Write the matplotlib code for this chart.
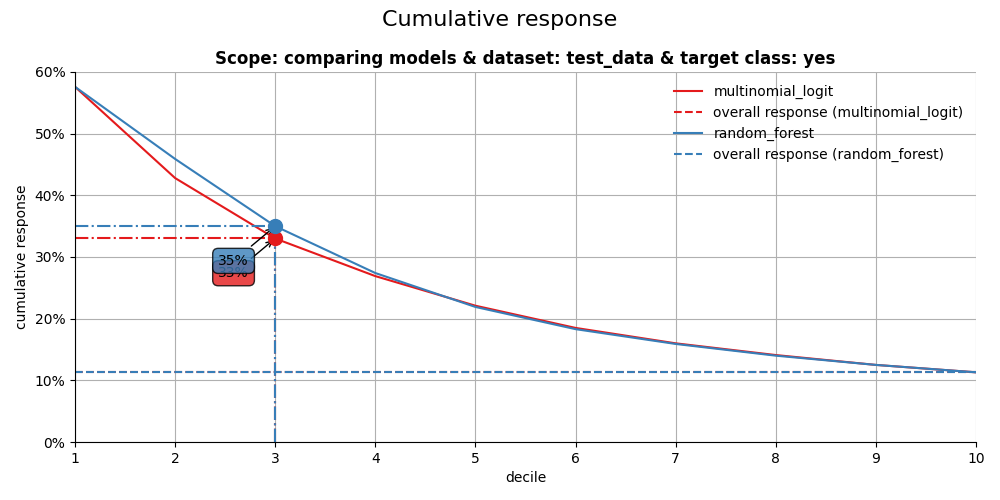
import numpy as np
import matplotlib.pyplot as plt
from matplotlib.ticker import PercentFormatter

# data
deciles = [1, 2, 3, 4, 5, 6, 7, 8, 9, 10]
models = ["multinomial_logit", "random_forest"]
cumresp_logit = [0.576, 0.428, 0.330, 0.269, 0.221, 0.185, 0.160, 0.141, 0.125, 0.113]
cumresp_rf = [0.576, 0.459, 0.350, 0.274, 0.219, 0.183, 0.159, 0.140, 0.125, 0.113]
overall_resp = [0.113, 0.113]
highlight_decile = 3
colors = ["#e41a1c", "#377eb8"]

fig, ax = plt.subplots(figsize=(10, 5), dpi=100)
fig.subplots_adjust(left=0.075, right=0.976, top=0.856, bottom=0.116)

series = [cumresp_logit, cumresp_rf]
for name, vals, ovr, col in zip(models, series, overall_resp, colors):
    ax.plot(deciles, vals, color=col, linewidth=1.5, label=name)
    ax.plot(deciles, [ovr] * len(deciles), color=col, linestyle="--", linewidth=1.5,
            label="overall response (%s)" % name)

# highlight decile 3
for vals, col in zip(series, colors):
    y = vals[highlight_decile - 1]
    ax.plot([1, highlight_decile], [y, y], linestyle="-.", color=col, linewidth=1.5)
    ax.plot([highlight_decile, highlight_decile], [0, y], linestyle="-.", color=col, linewidth=1.5)
    ax.scatter(highlight_decile, y, color=col, s=100, zorder=5)
    ax.annotate("%d%%" % round(y * 100), xy=(highlight_decile, y), xytext=(-30, -25),
                textcoords="offset points", ha="center", va="center",
                bbox=dict(boxstyle="round,pad=0.4", fc=col, alpha=0.8),
                arrowprops=dict(arrowstyle="->", color="black"))

ax.set_xlim(1, 10)
ax.set_ylim(0, 0.6)
ax.set_xticks(deciles)
ax.yaxis.set_major_formatter(PercentFormatter(1.0, decimals=0))
ax.grid(True, color="#b0b0b0")
ax.spines["top"].set_visible(False)
ax.spines["right"].set_visible(False)
ax.set_xlabel("decile")
ax.set_ylabel("cumulative response")
ax.set_title("Scope: comparing models & dataset: test_data & target class: yes",
             fontweight="bold", fontsize=12)
fig.suptitle("Cumulative response", fontsize=16)
ax.legend(loc="upper right", frameon=False)

plt.savefig("out.png")
